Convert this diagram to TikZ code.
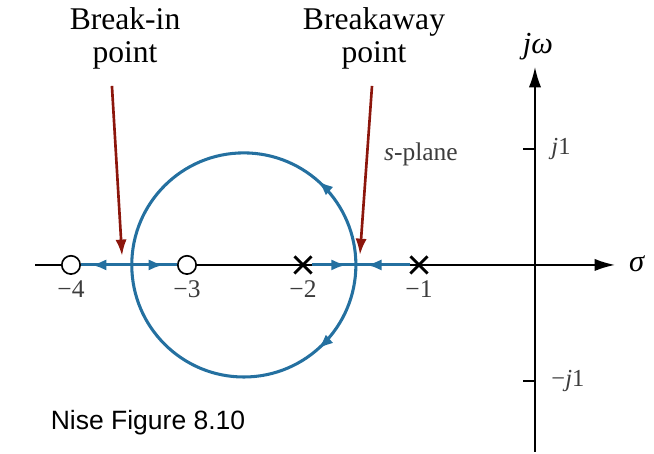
\documentclass[tikz,border=0pt]{standalone}
\usepackage{fontspec}
\setmainfont{Liberation Serif}
\newfontfamily\capfont{Liberation Sans}
\usetikzlibrary{arrows.meta,decorations.markings,shapes.misc}
\definecolor{locusblue}{RGB}{36,112,160}
\definecolor{callred}{RGB}{140,22,12}
\definecolor{ticktext}{RGB}{60,60,60}

\begin{document}
\begin{tikzpicture}[x=2cm,y=2cm,
  axis/.style={line width=0.9pt,-{Latex[length=10pt,width=6pt]}},
  locus/.style={locusblue,line width=1.5pt},
  flow/.style={postaction={decorate},decoration={markings,
    mark=at position #1 with {\arrow{Latex[length=7.5pt,width=5.5pt]}}}},
  zero/.style={circle,draw,fill=white,line width=0.8pt,minimum size=9pt,inner sep=0pt},
  pole/.style={cross out,draw,line width=1.4pt,minimum size=7pt,inner sep=0pt},
  tick/.style={font=\fontsize{12.5}{14}\selectfont,text=ticktext,anchor=base},
  call/.style={callred,line width=1.3pt,-{Latex[length=8pt,width=5.5pt]}},
  heading/.style={font=\fontsize{15.5}{16.5}\selectfont,align=center,anchor=north,inner sep=0pt}]
\useasboundingbox (-4.612,-1.629) rectangle (1.026,2.284);
% axes
\coordinate (re0) at (-4.31,0); \coordinate (re1) at (0.69,0);
\coordinate (im0) at (0,-1.61); \coordinate (im1) at (0,1.707);
\draw[axis] (re0) -- (re1);
\draw[axis] (im0) -- (im1);
\node[font=\fontsize{15}{17}\selectfont] (sig) at (0.88,0.01) {\textit{σ}};
\node[font=\fontsize{15}{17}\selectfont] (jw) at (0.026,1.88) {\textit{jω}};
\foreach \y/\t/\n in {1/\textit{j}1/up,-1/−\textit{j}1/dn}{
  \coordinate (t\n) at (-0.1,\y); \coordinate (a\n) at (0,\y);
  \draw[line width=0.8pt] (t\n) -- (a\n);
  \node[anchor=west,font=\fontsize{12}{14}\selectfont,text=ticktext] (j\n) at (0.08,\y) {\t};
}
\foreach \x in {1,...,4}{\node[tick] (lab\x) at (-\x,-0.284) {−\x};}
\node[font=\fontsize{12.5}{14}\selectfont,text=ticktext] (splane) at (-0.983,0.95) {\textit{s}-plane};
% poles and zeros
\node[zero] (z4) at (-4,0) {};
\node[zero] (z3) at (-3,0) {};
\node[pole] (p2) at (-2,0) {};
\node[pole] (p1) at (-1,0) {};
\coordinate (bin) at (-3.476,0);
\coordinate (bway) at (-1.544,0);
% root locus
\draw[locus,flow=0.8] (bin) -- (z4);
\draw[locus,flow=0.71] (bin) -- (z3);
\draw[locus,flow=0.79] (p2) -- (bway);
\draw[locus,flow=0.81] (p1) -- (bway);
\draw[locus,flow=0.27] (bway) arc[start angle=0,end angle=180,radius=0.966];
\draw[locus,flow=0.27] (bway) arc[start angle=0,end angle=-180,radius=0.966];
% callouts
\node[heading] (binlab) at (-3.534,2.224) {Break-in\\point};
\node[heading] (bwaylab) at (-1.388,2.224) {Breakaway\\point};
\coordinate (bintail) at (-3.647,1.543); \coordinate (bintip) at (-3.56,0.078);
\coordinate (bwaytail) at (-1.405,1.543); \coordinate (bwaytip) at (-1.509,0.086);
\draw[call] (bintail) -- (bintip);
\draw[call] (bwaytail) -- (bwaytip);
\node[font=\capfont\fontsize{13}{15}\selectfont,anchor=base] (caption) at (-3.336,-1.422) {Nise Figure 8.10};
\end{tikzpicture}
\end{document}
